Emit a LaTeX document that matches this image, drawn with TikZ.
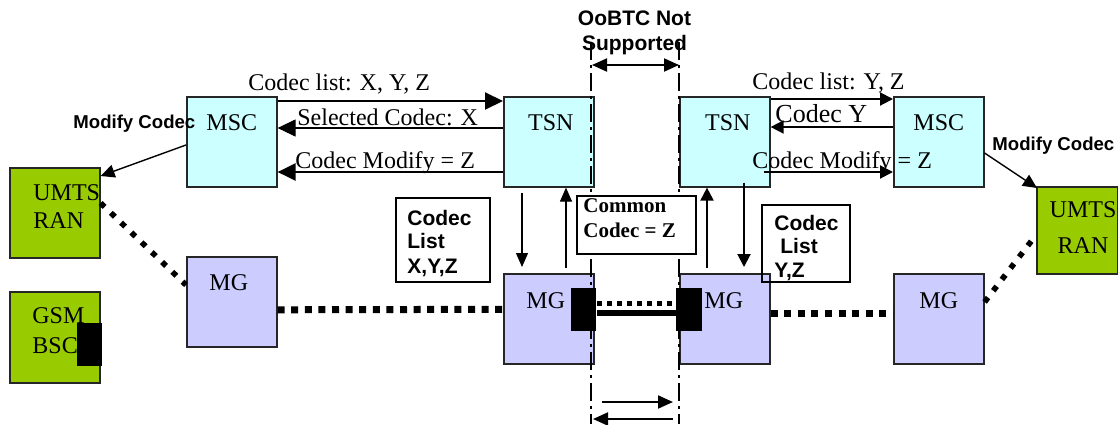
\documentclass[tikz,border=0pt]{standalone}
\usepackage{fontspec}
\setmainfont{Liberation Serif}
\setsansfont{Liberation Sans}
\usetikzlibrary{arrows.meta}

\definecolor{ctrlcol}{HTML}{CCFFFF}
\definecolor{gwcol}{HTML}{CCCCFF}
\definecolor{rancol}{HTML}{99CC00}

\tikzset{
  unit/.style={draw=black!85, line width=0.8pt, anchor=north west, inner sep=0pt,
               minimum width=45pt, minimum height=45pt},
  ctrl/.style={unit, fill=ctrlcol},
  gw/.style={unit, fill=gwcol},
  ran/.style={unit, fill=rancol},
  port/.style={fill=black, anchor=north west, inner sep=0pt,
               minimum width=12.5pt, minimum height=21.5pt},
  note/.style={draw, line width=1pt, anchor=north west, inner sep=0pt},
  txt/.style={anchor=base west, inner sep=0pt, font=\fontsize{12}{14}\selectfont},
  title/.style={txt, anchor=base},
  hint/.style={anchor=base west, inner sep=0pt, font=\sffamily\bfseries\fontsize{9.3}{11}\selectfont},
  notetxt/.style={anchor=base west, inner sep=0pt, font=\sffamily\bfseries\fontsize{10.5}{12}\selectfont},
  sig/.style={-{Triangle[length=9pt,width=8.5pt]}, line width=1pt},
  sigr/.style={-{Triangle[length=6.5pt,width=6.5pt]}, line width=1pt},
  diag/.style={-{Triangle[length=7pt,width=6.5pt]}, line width=0.7pt},
  down/.style={-{Triangle[length=7pt,width=6pt]}, line width=0.6pt},
  downthick/.style={-{Triangle[length=6.5pt,width=6.5pt]}, line width=1pt},
  dots/.style={line width=2.8pt, dash pattern=on 2.8pt off 4.3pt},
  trunk/.style={line width=3.5pt, dash pattern=on 3.5pt off 3.3pt},
  cut/.style={line width=1.2pt, dash pattern=on 9pt off 2.5pt on 1.5pt off 2.5pt},
  span/.style={-{Triangle[length=7.5pt,width=6.5pt]}, line width=1pt},
  twospan/.style={{Triangle[length=7.5pt,width=6.5pt]}-{Triangle[length=7.5pt,width=6.5pt]}, line width=1pt}
}

\begin{document}
\begin{tikzpicture}[x=0.5pt,y=-0.5pt]
    \useasboundingbox (0,0) rectangle (1118,424);

    % network elements
    \node[ctrl] (msca) at (186,96) {};
    \node[ctrl] (tsna) at (503,96) {};
    \node[ctrl] (tsnb) at (679,96) {};
    \node[ctrl] (mscb) at (893,96) {};
    \node[gw] (mga) at (186,256) {};
    \node[gw] (mgb) at (503,273) {};
    \node[gw] (mgc) at (679,273) {};
    \node[gw] (mgd) at (893,273) {};
    \node[ran] (rana) at (9,167) {};
    \node[ran, minimum height=45.5pt] (bsc) at (9,291) {};
    \node[ran, minimum width=40.5pt, minimum height=43.5pt] (ranb) at (1036,186) {};

    % OoBTC boundary
    \coordinate (cuta) at (591,42);
    \coordinate (cutb) at (679,42);
    \coordinate (cutaend) at (591,424);
    \coordinate (cutbend) at (679,424);
    \draw[cut] (cuta) -- (cutaend);
    \draw[cut] (cutb) -- (cutbend);
    \draw[twospan] ([xshift=0.5pt,yshift=-11.5pt]cuta) -- ([yshift=-11.5pt]cutb);
    \draw[span] ([xshift=5.5pt,yshift=11pt]cutaend) -- ([xshift=-3pt,yshift=11pt]cutbend);
    \draw[span] ([xshift=-3pt,yshift=2.5pt]cutbend) -- ([xshift=1pt,yshift=2.5pt]cutaend);

    % notes
    \node[note, fill=white, minimum width=59.5pt, minimum height=29pt] (common) at (576,195) {};
    \node[note, minimum width=47pt, minimum height=42pt] (lista) at (395,197) {};
    \node[note, minimum width=44pt, minimum height=38.5pt] (listb) at (761,204) {};

    % box titles
    \node[title] (msca-t) at ([yshift=-17pt]msca.north) {MSC};
    \node[title] (tsna-t) at ([xshift=1pt,yshift=-17pt]tsna.north) {TSN};
    \node[title] (tsnb-t) at ([xshift=1.5pt,yshift=-17pt]tsnb.north) {TSN};
    \node[title] (mscb-t) at ([yshift=-17pt]mscb.north) {MSC};
    \node[title] (mga-t) at ([xshift=-1.5pt,yshift=-17pt]mga.north) {MG};
    \node[title] (mgb-t) at ([xshift=-1.5pt,yshift=-17.5pt]mgb.north) {MG};
    \node[title] (mgc-t) at ([xshift=-0.5pt,yshift=-17.5pt]mgc.north) {MG};
    \node[title] (mgd-t) at ([yshift=-17.5pt]mgd.north) {MG};
    \node[txt] (rana-t1) at (33,200) {UMTS};
    \node[txt] (rana-t2) at (33,228) {RAN};
    \node[txt] (bsc-t1) at (32,323) {GSM};
    \node[txt] (bsc-t2) at (32,353) {BSC};
    \node[title] (ranb-t1) at (1083,217) {UMTS};
    \node[title] (ranb-t2) at (1083,253) {RAN};

    % terminations
    \node[port] (porta) at (77,323) {};
    \node[port] (portb) at (571,288) {};
    \node[port, minimum width=13pt] (portc) at (676,288) {};
    \draw[line width=2.5pt, dash pattern=on 2.5pt off 2.5pt] ([yshift=3.25pt]portb.east) -- ([yshift=3.25pt]portc.west);
    \draw[line width=3pt] ([yshift=-1.75pt]portb.east) -- ([yshift=-1.75pt]portc.west);

    % bearers
    \draw[trunk] ([yshift=-4pt]mga.east) -- ([yshift=4.75pt]mgb.west);
    \draw[trunk] ([yshift=2.75pt]mgc.east) -- ([yshift=2.75pt]mgd.west);
    \draw[dots] ([yshift=-18pt]rana.north east) -- ([yshift=-14.5pt]mga.north west);
    \draw[dots] ([yshift=-14.5pt]mgd.north east) -- ([yshift=-24.5pt]ranb.north west);

    % signalling
    \draw[sig] ([yshift=-2.5pt]msca.north east) -- ([yshift=-2.5pt]tsna.north west);
    \draw[sig, line width=0.6pt] ([yshift=-16pt]tsna.north west) -- ([yshift=-16pt]msca.north east);
    \draw[sig, line width=1.3pt] ([yshift=-38pt]tsna.north west) -- ([yshift=-38pt]msca.north east);
    \draw[sigr] ([yshift=-1.5pt]tsnb.north east) -- ([yshift=-1.5pt]mscb.north west);
    \draw[sigr, line width=0.8pt] ([yshift=-15.5pt]mscb.north west) -- ([yshift=-15.5pt]tsnb.north east);
    \draw[sigr] ([xshift=-3.5pt,yshift=-38pt]tsnb.north east) -- ([yshift=-38pt]mscb.north west);
    \draw[diag] ([yshift=-24.5pt]msca.north west) -- ([yshift=-4.5pt]rana.north east);
    \draw[diag] ([yshift=-28.5pt]mscb.north east) -- ([xshift=0.5pt,yshift=-1pt]ranb.north west);
    \draw[down] ([xshift=9.5pt,yshift=-2.5pt]tsna.south west) -- ([xshift=9.5pt,yshift=3pt]mgb.north west);
    \draw[down] ([xshift=31.5pt,yshift=2.5pt]mgb.north west) -- ([xshift=31.5pt]tsna.south west);
    \draw[downthick] ([xshift=14pt,yshift=2.5pt]mgc.north west) -- ([xshift=14pt]tsnb.south west);
    \draw[downthick] ([xshift=32.5pt,yshift=2.5pt]tsnb.south west) -- ([xshift=32.5pt,yshift=3pt]mgc.north west);

    % labels
    \node[txt] (lbl-xyz) at (248,90) {Codec list: X, Y, Z};
    \node[txt] (lbl-sel) at (297,125) {Selected Codec: X};
    \node[txt] (lbl-moda) at (295,168) {Codec Modify = Z};
    \node[txt] (lbl-yz) at (752,89) {Codec list: Y, Z};
    \node[txt, font=\fontsize{13}{15}\selectfont] (lbl-y) at (775,122) {Codec Y};
    \node[txt] (lbl-modb) at (752,168) {Codec Modify = Z};
    \node[hint] (hint-a) at (73,128) {Modify Codec};
    \node[hint] (hint-b) at (992,150) {Modify Codec};
    \node[notetxt, anchor=base] (oob-1) at (634.5,25) {OoBTC Not};
    \node[notetxt, anchor=base] (oob-2) at (634.5,50) {Supported};
    \node[notetxt] (lista-1) at (407,225) {Codec};
    \node[notetxt] (lista-2) at (407,248) {List};
    \node[notetxt] (lista-3) at (407,273) {X,Y,Z};
    \node[notetxt] (listb-1) at (774,230) {Codec};
    \node[notetxt] (listb-2) at (780,253) {List};
    \node[notetxt] (listb-3) at (774,277) {Y,Z};
    \node[txt, font=\bfseries\fontsize{10.5}{12}\selectfont] (common-1) at (583,212) {Common};
    \node[txt, font=\bfseries\fontsize{10.5}{12}\selectfont] (common-2) at (583,237) {Codec = Z};
\end{tikzpicture}
\end{document}
